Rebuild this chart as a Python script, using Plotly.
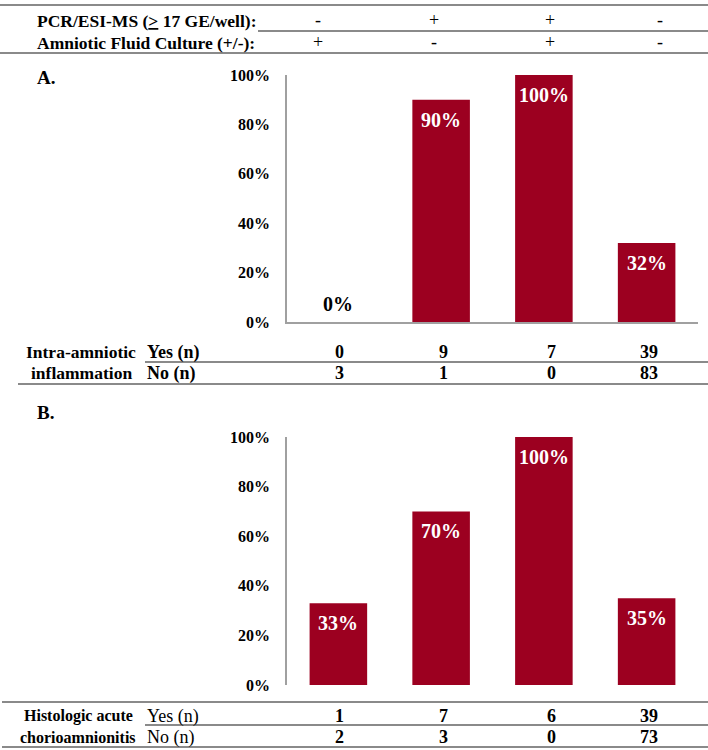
import plotly.graph_objects as go

# dados
grupos = ["PCR-/Cult+", "PCR+/Cult-", "PCR+/Cult+", "PCR-/Cult-"]
pcr_esi = ["-", "+", "+", "-"]
cultura = ["+", "-", "+", "-"]

inflam_pct = [0, 90, 100, 32]
inflam_sim = [0, 9, 7, 39]
inflam_nao = [3, 1, 0, 83]

corio_pct = [33, 70, 100, 35]
corio_sim = [1, 7, 6, 39]
corio_nao = [2, 3, 0, 73]

ticks_y = [0, 20, 40, 60, 80, 100]
ticks_txt = ["0%", "20%", "40%", "60%", "80%", "100%"]

W, H = 708, 750
VERMELHO = "#9C0020"
CINZA = "#8a8a8a"
FONTE = "Liberation Serif"


def px(x):
    return x / W


def py(y):
    return 1 - y / H


fig = go.Figure()
fig.add_trace(go.Bar(x=grupos, y=inflam_pct, marker_color=VERMELHO, marker_line_width=0,
                     width=0.56, xaxis="x", yaxis="y", hoverinfo="skip"))
fig.add_trace(go.Bar(x=grupos, y=corio_pct, marker_color=VERMELHO, marker_line_width=0,
                     width=0.56, xaxis="x2", yaxis="y2", hoverinfo="skip"))

eixo_y = dict(range=[0, 100], tickmode="array", tickvals=ticks_y, ticktext=ticks_txt,
              showline=True, linecolor="#a0a0a0", linewidth=1.5, showgrid=False,
              zeroline=False, ticks="", ticklabelstandoff=12, automargin=False,
              tickfont=dict(family=FONTE, size=16, color="black", weight="bold"))
eixo_x = dict(range=[-0.5, 3.5], showticklabels=False, showgrid=False, zeroline=False,
              domain=[px(287), px(698)], ticks="", automargin=False)

fig.update_layout(
    width=W, height=H,
    autosize=False,
    margin=dict(l=0, r=0, t=0, b=0, pad=0),
    paper_bgcolor="white", plot_bgcolor="white",
    showlegend=False,
    xaxis=dict(eixo_x, anchor="y", showline=True, linecolor="#a0a0a0", linewidth=1.5),
    yaxis=dict(eixo_y, anchor="x", domain=[py(322), py(75)]),
    xaxis2=dict(eixo_x, anchor="y2", showline=False),
    yaxis2=dict(eixo_y, anchor="x2", domain=[py(685), py(437)]),
    font=dict(family=FONTE, color="black"),
)

anots = []


def texto(x, y, t, size=18, bold=True, anchor="center", color="black"):
    anots.append(dict(x=px(x), y=py(y), xref="paper", yref="paper", text=t,
                      showarrow=False, xanchor=anchor, yanchor="middle", borderpad=0,
                      font=dict(family=FONTE, size=size, color=color,
                                weight="bold" if bold else "normal")))


# rótulos nas barras
for eixo, valores in (("", inflam_pct), ("2", corio_pct)):
    for g, v in zip(grupos, valores):
        cor = "black" if v == 0 else "white"
        anots.append(dict(x=g, y=v, xref="x" + eixo, yref="y" + eixo, text=f"{v}%",
                          showarrow=False, yshift=18 if v == 0 else -20,
                          font=dict(family=FONTE, size=20, color=cor, weight="bold")))

# cabeçalho
col_cab = [318, 434, 550, 660]
texto(36, 21, "PCR/ESI-MS (<u>></u> 17 GE/well):", size=17.5, anchor="left")
texto(36, 43, "Amniotic Fluid Culture (+/-):", size=17.5, anchor="left")
for xc, a, b in zip(col_cab, pcr_esi, cultura):
    texto(xc, 20, a, size=18, bold=False)
    texto(xc, 42, b, size=18, bold=False)

texto(36, 77, "A.", size=19, anchor="left")
texto(36, 412, "B.", size=19, anchor="left")

# tabelas de contagem
col_val = [339, 443, 551, 649]
texto(81, 352, "Intra-amniotic", size=17.5)
texto(81, 373, "inflammation", size=17.5)
texto(146, 352, "Yes (n)", anchor="left")
texto(146, 373, "No (n)", anchor="left")
for xc, s, n in zip(col_val, inflam_sim, inflam_nao):
    texto(xc, 352, str(s))
    texto(xc, 373, str(n))

texto(78, 716, "Histologic acute", size=16)
texto(78, 737, "chorioamnionitis", size=16)
texto(146, 716, "Yes (n)", bold=False, anchor="left")
texto(146, 737, "No (n)", bold=False, anchor="left")
for xc, s, n in zip(col_val, corio_sim, corio_nao):
    texto(xc, 716, str(s))
    texto(xc, 737, str(n))

linhas = [(0, 708, 5), (258, 708, 31), (0, 708, 53),
          (145, 708, 362), (18, 708, 384),
          (2, 708, 702), (145, 708, 725), (2, 708, 747)]
shapes = [dict(type="line", xref="paper", yref="paper", x0=px(a), x1=px(b),
               y0=py(y), y1=py(y), line=dict(color=CINZA, width=2)) for a, b, y in linhas]

fig.update_layout(annotations=anots, shapes=shapes)
fig.write_html("out.html", config={"displayModeBar": False},
               post_script="document.body.style.margin='0px';")
